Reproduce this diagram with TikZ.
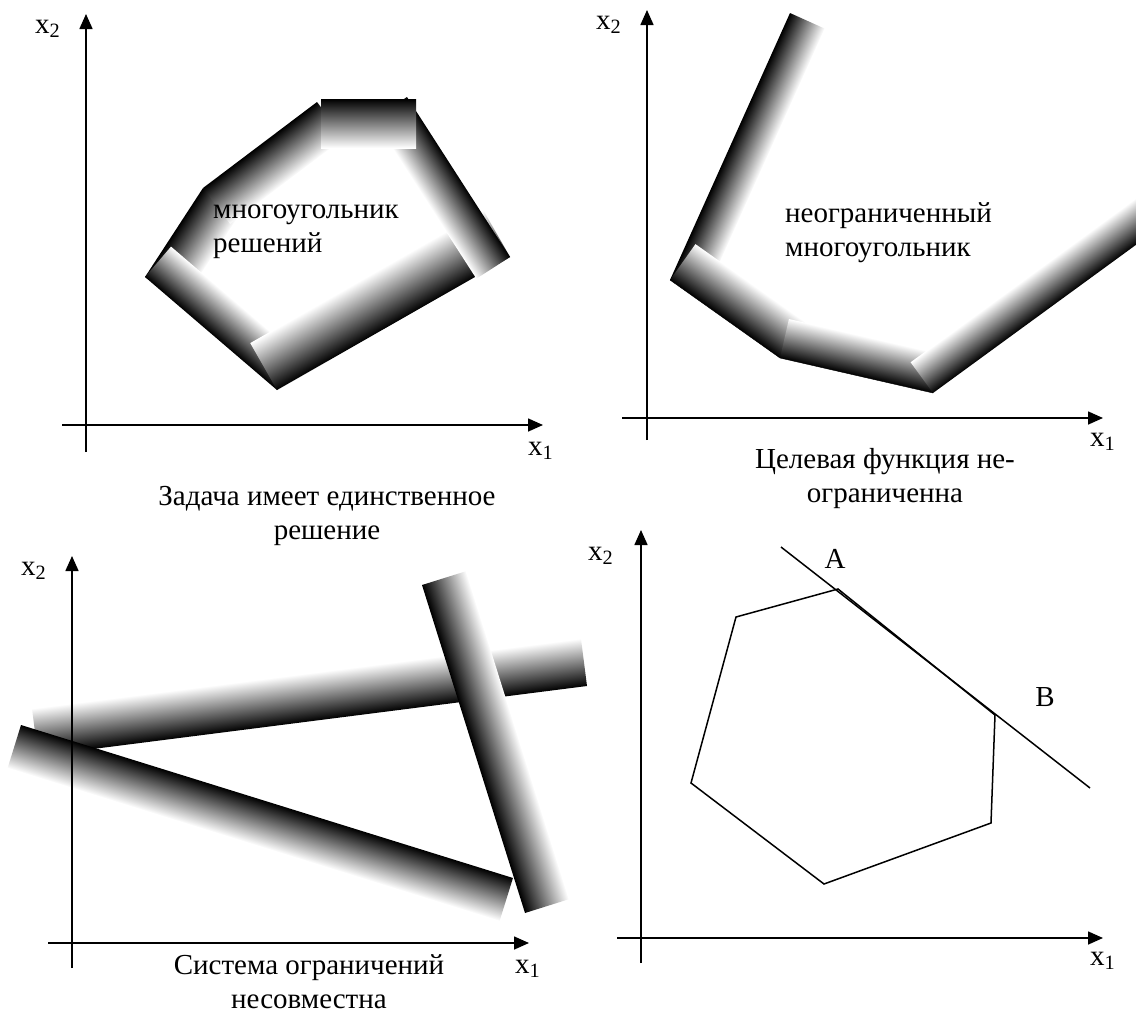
\documentclass[tikz,border=0pt]{standalone}
\usepackage{fontspec}
\setmainfont{Liberation Serif}
\usetikzlibrary{arrows.meta,calc}

% one shaded strip along an edge: black on the edge, white on its right-hand side
\newcommand\shadeband[3]{%
  \path let \p1=($#2-#1$) in \pgfextra{%
    \pgfmathsetmacro\bandang{atan2(\y1,\x1)}%
    \pgfmathsetmacro\bandlen{veclen(\x1,\y1)}%
    \xdef\bandang{\bandang}\xdef\bandlen{\bandlen}};
  \begin{scope}[transform canvas={shift={#1},rotate=\bandang}]
    \shade[top color=black, middle color=black!55, bottom color=white] (0,0) rectangle (\bandlen pt,#3);
  \end{scope}}

\begin{document}
\begin{tikzpicture}[
  x=1pt, y=-1pt,
  font=\fontsize{29}{34}\selectfont,
  axis/.style={line width=1.6pt, -{Triangle[length=15pt, width=13pt]}},
  lbl/.style={inner sep=0pt, anchor=base west},
  captext/.style={inner sep=0pt, anchor=base, align=center},
  outline/.style={line width=1.5pt}
]
\useasboundingbox (0,0) rectangle (1136,1015);

% top left: bounded polygon
\shadeband{(145,277)}{(203,188)}{45}
\shadeband{(203,188)}{(317,102)}{45}
\shadeband{(277,390)}{(145,277)}{40}
\shadeband{(510,257)}{(277,390)}{54}
\shadeband{(407,97)}{(510,257)}{40}
\shadeband{(321,99)}{(416,99)}{49}
\draw[axis] (86,452) -- (86,14);
\draw[axis] (62,425) -- (543,425);
\node[lbl] (xtwoA) at (35,33) {x\textsubscript{2}};
\node[lbl] (xoneA) at (528,455) {x\textsubscript{1}};
\node[lbl, align=left] (polyA) at (213,252) {многоугольник\\решений};
\node[captext] (capA) at (327,539) {Задача имеет единственное\\решение};

% top right: unbounded polygon
\shadeband{(670,280)}{(790,13)}{38}
\shadeband{(780,358)}{(670,280)}{44}
\shadeband{(933,393)}{(780,358)}{40}
\shadeband{(1170,220)}{(933,393)}{38}
\draw (670,280) -- (780,358) -- (933,393);
\draw[axis] (647,440) -- (647,10);
\draw[axis] (622,418) -- (1103,418);
\node[lbl] (xtwoB) at (596,29) {x\textsubscript{2}};
\node[lbl] (xoneB) at (1090,446) {x\textsubscript{1}};
\node[lbl, align=left] (polyB) at (785,256) {неограниченный\\многоугольник};
\node[captext] (capB) at (885,502) {Целевая функция не-\\ограниченна};

% bottom left: empty set
\shadeband{(587,686)}{(38,756)}{48}
\shadeband{(21,725)}{(513,878)}{45}
\shadeband{(525,913)}{(422,585)}{46}
\draw[axis] (72,968) -- (72,556);
\draw[axis] (48,943) -- (529,943);
\node[lbl] (xtwoC) at (21,575) {x\textsubscript{2}};
\node[lbl] (xoneC) at (515,973) {x\textsubscript{1}};
\node[captext] (capC) at (309,1008) {Система ограничений\\несовместна};

% bottom right: level line along an edge
\draw[outline] (736,617) -- (838,589) -- (995,715) -- (991,823) -- (824,884) -- (691,783) -- cycle;
\draw[outline] (781,547) -- (1090,788);
\node[inner sep=0pt, anchor=base] (ptA) at (835,568) {A};
\node[inner sep=0pt, anchor=base] (ptB) at (1045,706) {B};
\draw[axis] (641,963) -- (641,530);
\draw[axis] (617,938) -- (1103,938);
\node[lbl] (xtwoD) at (588,560) {x\textsubscript{2}};
\node[lbl] (xoneD) at (1090,965) {x\textsubscript{1}};
\end{tikzpicture}
\end{document}
